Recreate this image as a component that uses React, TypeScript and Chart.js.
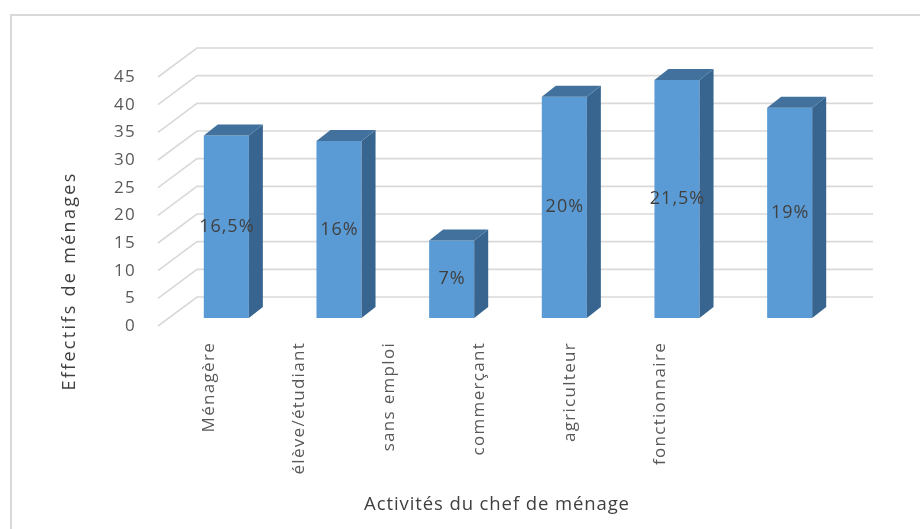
import { useEffect, useRef } from "react";
import { Chart, registerables } from "chart.js";

Chart.register(...registerables);

// ---- data ----
const CATEGORIES = ["Ménagère", "élève/étudiant", "sans emploi", "commerçant", "agriculteur", "fonctionnaire"];
const EFFECTIFS = [33, 32, 14, 40, 43, 38];
const POURCENTAGES = ["16,5%", "16%", "7%", "20%", "21,5%", "19%"];
const Y_MIN = 0;
const Y_MAX = 45;
const Y_STEP = 5;
const Y_TITLE = "Effectifs de ménages";
const X_TITLE = "Activités du chef de ménage";

// ---- style ----
const FONT = "'Open Sans', Lato, sans-serif";
const FRONT_COLOR = "#5B9BD5";
const SIDE_COLOR = "#386590";
const TOP_COLOR = "#41719C";
const GRID_COLOR = "#d9d9d9";
const TICK_COLOR = "#595959";
const TEXT_COLOR = "#404040";
const FRONT_OFF = { dx: -12, dy: 8 };
const BACK_OFF = { dx: 27, dy: -21 };
const DEPTH = { dx: 14, dy: -11 };
const LABEL_MIN = -0.4324;
const LABEL_MAX = 7.062;

const setSpacing = (ctx: any, v: string) => {
  try {
    ctx.letterSpacing = v;
  } catch (e) {}
};

const threeD = {
  id: "threeD",
  beforeDraw(chart: any) {
    const { ctx } = chart;
    ctx.save();
    ctx.strokeStyle = GRID_COLOR;
    ctx.lineWidth = 2;
    ctx.strokeRect(11, 15, 1000, 1000);
    ctx.restore();
    setSpacing(ctx, "1.3px");
  },
  beforeDatasetsDraw(chart: any) {
    const { ctx, chartArea } = chart;
    const y = chart.scales.y;
    ctx.save();
    ctx.strokeStyle = GRID_COLOR;
    ctx.lineWidth = 1.6;
    y.ticks.forEach((t: any) => {
      const py = y.getPixelForValue(t.value);
      ctx.beginPath();
      ctx.moveTo(chartArea.left + FRONT_OFF.dx, py + FRONT_OFF.dy);
      ctx.lineTo(chartArea.left + BACK_OFF.dx, py + BACK_OFF.dy);
      ctx.lineTo(chartArea.right + BACK_OFF.dx, py + BACK_OFF.dy);
      ctx.stroke();
    });
    ctx.restore();
  },
  afterDatasetsDraw(chart: any) {
    const { ctx } = chart;
    const meta = chart.getDatasetMeta(0);
    ctx.save();
    meta.data.forEach((bar: any, i: number) => {
      const { x, y, base, width } = bar.getProps(["x", "y", "base", "width"], true);
      const l = x - width / 2;
      const r = x + width / 2;
      // side face
      ctx.fillStyle = SIDE_COLOR;
      ctx.beginPath();
      ctx.moveTo(r, y);
      ctx.lineTo(r + DEPTH.dx, y + DEPTH.dy);
      ctx.lineTo(r + DEPTH.dx, base + DEPTH.dy);
      ctx.lineTo(r, base);
      ctx.closePath();
      ctx.fill();
      // top face
      ctx.fillStyle = TOP_COLOR;
      ctx.beginPath();
      ctx.moveTo(l, y);
      ctx.lineTo(r, y);
      ctx.lineTo(r + DEPTH.dx, y + DEPTH.dy);
      ctx.lineTo(l + DEPTH.dx, y + DEPTH.dy);
      ctx.closePath();
      ctx.fill();
      // value label
      ctx.fillStyle = TEXT_COLOR;
      ctx.font = `18px ${FONT}`;
      setSpacing(ctx, "1px");
      ctx.textAlign = "center";
      ctx.textBaseline = "middle";
      ctx.fillText(POURCENTAGES[i], x + 0.5, (y + base) / 2);
    });
    ctx.restore();
  },
  afterDraw(chart: any) {
    const { ctx } = chart;
    ctx.save();
    ctx.fillStyle = TEXT_COLOR;
    ctx.font = `18.5px ${FONT}`;
    setSpacing(ctx, "0.9px");
    ctx.textAlign = "center";
    ctx.textBaseline = "middle";
    ctx.fillText(X_TITLE, 497, 505);
    ctx.font = `18px ${FONT}`;
    setSpacing(ctx, "2.3px");
    ctx.translate(70, 281);
    ctx.rotate(-Math.PI / 2);
    ctx.fillText(Y_TITLE, 0, 0);
    ctx.restore();
    setSpacing(ctx, "0px");
  },
};

export default function App() {
  const ref = useRef<HTMLCanvasElement | null>(null);

  useEffect(() => {
    if (!ref.current) return;
    const chart = new Chart(ref.current, {
      type: "bar",
      data: {
        labels: CATEGORIES,
        datasets: [
          {
            label: Y_TITLE,
            data: EFFECTIFS,
            backgroundColor: FRONT_COLOR,
            borderWidth: 0,
            barPercentage: 0.4,
            categoryPercentage: 1,
            xAxisID: "x",
            yAxisID: "y",
          },
        ],
      },
      options: {
        animation: false,
        responsive: false,
        layout: { padding: { left: 0, top: 69, right: 74, bottom: 0 } },
        plugins: {
          legend: { display: false },
          tooltip: { enabled: false },
        },
        scales: {
          x: {
            type: "category",
            display: false,
            offset: true,
          },
          xl: {
            type: "linear",
            position: "bottom",
            offset: false,
            min: LABEL_MIN,
            max: LABEL_MAX,
            grid: { display: false, drawTicks: false, offset: false },
            border: { display: false },
            afterBuildTicks: (scale: any) => {
              scale.ticks = CATEGORIES.map((_, i) => ({ value: i }));
            },
            afterFit: (scale: any) => {
              scale.height = 211;
            },
            ticks: {
              autoSkip: false,
              minRotation: 90,
              maxRotation: 90,
              padding: 24,
              color: TICK_COLOR,
              font: { family: FONT, size: 17 },
              callback: (v: any) => CATEGORIES[Math.round(Number(v))] ?? "",
            },
          },
          y: {
            type: "linear",
            min: Y_MIN,
            max: Y_MAX,
            grid: { display: false, drawTicks: false },
            border: { display: false },
            afterFit: (scale: any) => {
              scale.width = 170;
            },
            ticks: {
              stepSize: Y_STEP,
              padding: 34,
              labelOffset: 8,
              color: TICK_COLOR,
              font: { family: FONT, size: 17 },
            },
          },
        },
      },
      plugins: [threeD],
    });
    return () => chart.destroy();
  }, []);

  return (
    <div style={{ position: "absolute", left: 0, top: 0, width: 920, height: 529, background: "#fff" }}>
      <canvas ref={ref} width={920} height={529} style={{ display: "block" }} />
    </div>
  );
}
